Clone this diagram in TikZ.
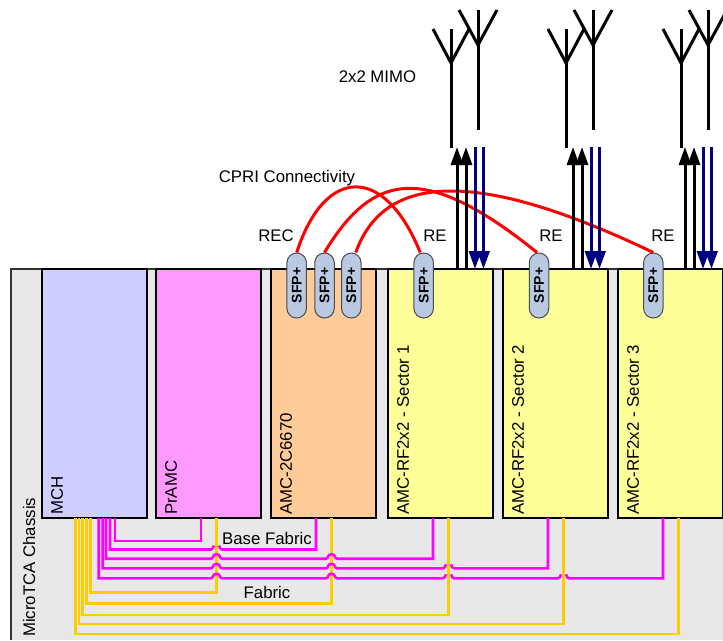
\documentclass[tikz,border=0pt]{standalone}
\usepackage{fontspec}
\setmainfont{Liberation Sans}
\usetikzlibrary{positioning, calc, arrows.meta, shapes.misc}

\definecolor{chassisgray}{HTML}{E8E8E8}
\definecolor{mchblue}{HTML}{CFCCFF}
\definecolor{pramcpink}{HTML}{FF99FF}
\definecolor{amcorange}{HTML}{FFCC99}
\definecolor{rfyellow}{HTML}{FFFF99}
\definecolor{sfpblue}{HTML}{B8C9E1}
\definecolor{fabricyellow}{HTML}{FFCC00}
\definecolor{basepink}{HTML}{FF00FF}
\definecolor{cprired}{HTML}{FF0000}
\definecolor{rfnavy}{HTML}{000080}

% magenta line hopping over a yellow one, left to right
\newcommand{\hopover}[2]{-- (#1-5.5,#2) .. controls (#1-3,#2) and (#1-4,#2-4.5) .. (#1,#2-4.5) .. controls (#1+4,#2-4.5) and (#1+3,#2) .. (#1+5.5,#2)}
\newcommand{\hopgap}[2]{-- (#1-5.5,#2) .. controls (#1-4,#2) and (#1-3,#2-2) .. (#1-2.5,#2-4) (#1+2.5,#2-4) .. controls (#1+3,#2-2) and (#1+4,#2) .. (#1+5.5,#2)}

\begin{document}
\begin{tikzpicture}[x=1pt, y=-1pt, every node/.style={text=black, font=\fontsize{16.8}{18}\selectfont},
  card/.style={draw=black, line width=1.4pt, outer sep=0pt, anchor=north west, minimum width=105pt, minimum height=249pt},
  cardlabel/.style={rotate=90, anchor=west, inner sep=0pt},
  sfp/.style={draw=black!70, line width=1pt, fill=sfpblue, rounded rectangle, rotate=90, minimum width=65pt, minimum height=19.5pt, inner sep=0pt, font=\bfseries\fontsize{14}{15}\selectfont},
  cpri/.style={cprired, line width=3pt},
  base/.style={basepink, line width=2.6pt},
  fabric/.style={fabricyellow, line width=2.6pt},
  rfup/.style={black, line width=3pt, -{Triangle[length=18pt, width=12pt]}},
  rfdown/.style={rfnavy, line width=3pt, -{Triangle[length=18pt, width=12pt]}},
  ant/.style={black, line width=3pt}]
  \useasboundingbox (0,0) rectangle (723,640);

  % chassis
  \fill[chassisgray] (11,269) rectangle (723,640);
  \draw[black!80, line width=1.2pt] (723,269) -- (11,269) -- (11,640);
  \node[cardlabel] (chassis) at (29,637) {MicroTCA Chassis};

  % cards
  \node[card, fill=mchblue] (mch) at (42,269) {};
  \node[card, fill=pramcpink] (pramc) at (156,269) {};
  \node[card, fill=amcorange] (amc) at (271,269) {};
  \node[card, fill=rfyellow] (rfa) at (388,269) {};
  \node[card, fill=rfyellow] (rfb) at (503,269) {};
  \node[card, fill=rfyellow] (rfc) at (618,269) {};
  \node[cardlabel] at (57,515) {MCH};
  \node[cardlabel] at (171,515) {PrAMC};
  \node[cardlabel] at (286,515) {AMC-2C6670};
  \node[cardlabel] at (403,515) {AMC-RF2x2 - Sector 1};
  \node[cardlabel] at (518,515) {AMC-RF2x2 - Sector 2};
  \node[cardlabel] at (633,515) {AMC-RF2x2 - Sector 3};

  % sfp
  \node[sfp] (sfpa) at (296.7,285.5) {SFP+};
  \node[sfp] (sfpb) at (324.5,285.5) {SFP+};
  \node[sfp] (sfpc) at (351.3,285.5) {SFP+};
  \node[sfp] (sfpd) at (423.7,285.5) {SFP+};
  \node[sfp] (sfpe) at (539,285.5) {SFP+};
  \node[sfp] (sfpf) at (653.3,285.5) {SFP+};

  % cpri links
  \draw[cpri] (sfpa.east) .. controls (325,165) and (385,165) .. ([xshift=-3.5pt]sfpd.east);
  \draw[cpri] (sfpb.east) .. controls (374,170) and (427,164) .. ([xshift=-2pt]sfpe.east);
  \draw[cpri] ([xshift=4.5pt]sfpc.east) .. controls (385,170) and (483,171) .. (sfpf.east);

  % antennas and rf lines
  \foreach \x/\u/\n in {451/457/a, 566/573/b, 681/685/c} {
    \draw[ant] (\x,148) -- (\x,29);
    \draw[ant] (\x-18,29) -- (\x,63) -- (\x+18,29);
    \draw[ant] (\x+27,130) -- (\x+27,10);
    \draw[ant] (\x+8,10) -- (\x+27,45) -- (\x+46,10);
    \coordinate (top\n) at (0,147);
    \draw[rfup] (\u,0 |- rf\n.north) -- (\u,0 |- top\n);
    \draw[rfup] (\u+9,0 |- rf\n.north) -- (\u+9,0 |- top\n);
    \draw[rfdown] (\u+18,0 |- top\n) -- (\u+18,0 |- rf\n.north);
    \draw[rfdown] (\u+26.5,0 |- top\n) -- (\u+26.5,0 |- rf\n.north);
  }

  % fabric
  \draw[fabric] ([xshift=48.7pt]mch.south west) |- (216.5,592.7) -- ([xshift=60.5pt]pramc.south west);
  \draw[fabric] ([xshift=44.7pt]mch.south west) |- (331.5,603.5) -- ([xshift=60.5pt]amc.south west);
  \draw[fabric] ([xshift=40.7pt]mch.south west) |- (448.5,615) -- ([xshift=60.5pt]rfa.south west);
  \draw[fabric] ([xshift=37pt]mch.south west) |- (563.5,624) -- ([xshift=60.5pt]rfb.south west);
  \draw[fabric] ([xshift=33.3pt]mch.south west) |- (678.5,634) -- ([xshift=60.5pt]rfc.south west);

  % base fabric
  \draw[base] ([xshift=73pt]mch.south west) |- (201,541) -- ([xshift=45pt]pramc.south west);
  \draw[base] ([xshift=68pt]mch.south west) -- (110,549.5) \hopgap{216.5}{549.5} -- (316,549.5) -- ([xshift=45pt]amc.south west);
  \draw[base] ([xshift=64pt]mch.south west) -- (106,558.7) \hopover{216.5}{558.7} \hopover{331.5}{558.7} -- (433,558.7) -- ([xshift=45pt]rfa.south west);
  \draw[base] ([xshift=60.7pt]mch.south west) -- (102.7,568.3) \hopover{216.5}{568.3} \hopover{331.5}{568.3} \hopgap{448.5}{568.3} -- (548,568.3) -- ([xshift=45pt]rfb.south west);
  \draw[base] ([xshift=56.7pt]mch.south west) -- (98.7,578.3) \hopover{216.5}{578.3} \hopover{331.5}{578.3} \hopgap{448.5}{578.3} \hopgap{563.5}{578.3} -- (663,578.3) -- ([xshift=45pt]rfc.south west);

  % labels
  \node (mimo) at (377.5,77) {2x2 MIMO};
  \node (cprilabel) at (287,178) {CPRI Connectivity};
  \node (reclabel) at (276,236) {REC};
  \node (rea) at (435,236) {RE};
  \node (reb) at (551,236) {RE};
  \node (rec) at (663,236) {RE};
  \node (basefabric) at (267,538) {Base Fabric};
  \node (fabriclabel) at (267,592) {Fabric};
\end{tikzpicture}
\end{document}
